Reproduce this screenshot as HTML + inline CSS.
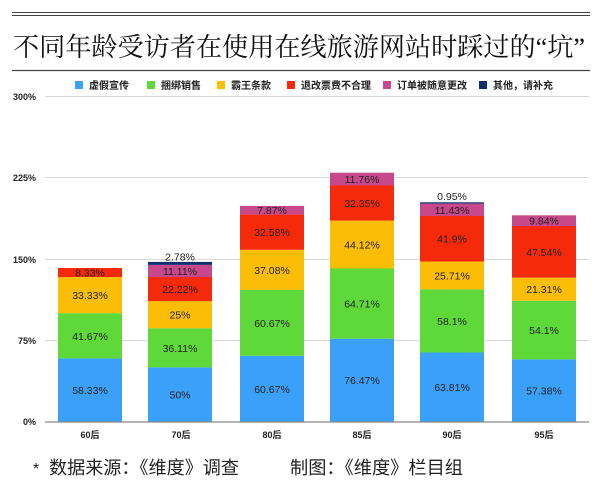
<!DOCTYPE html>
<html><head><meta charset="utf-8"><style>
html,body{margin:0;padding:0;background:#fff;width:600px;height:503px;overflow:hidden}
svg{display:block}
</style></head><body>
<svg width="600" height="503" viewBox="0 0 600 503" xmlns="http://www.w3.org/2000/svg">
<rect width="600" height="503" fill="#fff"/>
<line x1="12" y1="12.5" x2="590" y2="12.5" stroke="#444" stroke-width="1"/>
<line x1="12" y1="15.5" x2="590" y2="15.5" stroke="#444" stroke-width="1"/>
<text x="13" y="56" font-family="Liberation Serif, Noto Serif CJK SC, serif" font-size="26" fill="#111" textLength="572" lengthAdjust="spacingAndGlyphs">不同年龄受访者在使用在线旅游网站时踩过的“坑”</text>
<line x1="12" y1="70.5" x2="590" y2="70.5" stroke="#444" stroke-width="1.2"/>
<g font-family="Liberation Sans, Noto Sans CJK SC, sans-serif" font-size="10" fill="#222" font-weight="bold">
<rect x="75" y="81" width="8" height="8" fill="#3ba0f8"/><text x="89" y="89">虚假宣传</text>
<rect x="147" y="81" width="8" height="8" fill="#5fd83a"/><text x="161" y="89">捆绑销售</text>
<rect x="217" y="81" width="8" height="8" fill="#fbbd06"/><text x="231" y="89">霸王条款</text>
<rect x="287" y="81" width="8" height="8" fill="#f52a0a"/><text x="301" y="89">退改票费不合理</text>
<rect x="383" y="81" width="8" height="8" fill="#c7498b"/><text x="397" y="89">订单被随意更改</text>
<rect x="479" y="81" width="8" height="8" fill="#102f6e"/><text x="493" y="89">其他，请补充</text>
</g>
<g stroke="#d8d8d8" stroke-width="1">
<line x1="45" y1="96.5" x2="589" y2="96.5"/>
<line x1="45" y1="177.5" x2="589" y2="177.5"/>
<line x1="45" y1="259.5" x2="589" y2="259.5"/>
<line x1="45" y1="340.5" x2="589" y2="340.5"/>
</g>
<g font-family="Liberation Sans, sans-serif" font-size="9" font-weight="bold" fill="#222" text-anchor="end">
<text x="36" y="100">300%</text>
<text x="36" y="181">225%</text>
<text x="36" y="263">150%</text>
<text x="36" y="344">75%</text>
<text x="36" y="425">0%</text>
</g>
<g>
<rect x="58" y="358.4" width="64" height="63.3" fill="#3ba0f8"/>
<rect x="58" y="313.2" width="64" height="45.2" fill="#5fd83a"/>
<rect x="58" y="277.0" width="64" height="36.2" fill="#fbbd06"/>
<rect x="58" y="268.0" width="64" height="9.0" fill="#f52a0a"/>

<rect x="148" y="367.4" width="64" height="54.3" fill="#3ba0f8"/>
<rect x="148" y="328.2" width="64" height="39.2" fill="#5fd83a"/>
<rect x="148" y="301.1" width="64" height="27.1" fill="#fbbd06"/>
<rect x="148" y="277.0" width="64" height="24.1" fill="#f52a0a"/>
<rect x="148" y="264.9" width="64" height="12.1" fill="#c7498b"/>
<rect x="148" y="261.9" width="64" height="3.0" fill="#102f6e"/>

<rect x="240" y="355.9" width="64" height="65.8" fill="#3ba0f8"/>
<rect x="240" y="290.0" width="64" height="65.9" fill="#5fd83a"/>
<rect x="240" y="249.8" width="64" height="40.2" fill="#fbbd06"/>
<rect x="240" y="214.4" width="64" height="35.4" fill="#f52a0a"/>
<rect x="240" y="205.9" width="64" height="8.5" fill="#c7498b"/>

<rect x="330" y="338.7" width="64" height="83.0" fill="#3ba0f8"/>
<rect x="330" y="268.5" width="64" height="70.2" fill="#5fd83a"/>
<rect x="330" y="220.6" width="64" height="47.9" fill="#fbbd06"/>
<rect x="330" y="185.5" width="64" height="35.1" fill="#f52a0a"/>
<rect x="330" y="172.7" width="64" height="12.8" fill="#c7498b"/>

<rect x="420" y="352.5" width="64" height="69.2" fill="#3ba0f8"/>
<rect x="420" y="289.4" width="64" height="63.1" fill="#5fd83a"/>
<rect x="420" y="261.5" width="64" height="27.9" fill="#fbbd06"/>
<rect x="420" y="216.0" width="64" height="45.5" fill="#f52a0a"/>
<rect x="420" y="203.6" width="64" height="12.4" fill="#c7498b"/>
<rect x="420" y="202.3" width="64" height="1.3" fill="#102f6e"/>

<rect x="512" y="359.4" width="64" height="62.3" fill="#3ba0f8"/>
<rect x="512" y="300.7" width="64" height="58.7" fill="#5fd83a"/>
<rect x="512" y="277.6" width="64" height="23.1" fill="#fbbd06"/>
<rect x="512" y="226.0" width="64" height="51.6" fill="#f52a0a"/>
<rect x="512" y="215.3" width="64" height="10.7" fill="#c7498b"/>
</g>
<g font-family="Liberation Sans, sans-serif" font-size="10.5" fill="#222" text-anchor="middle">
<text x="90" y="394">58.33%</text><text x="90" y="339.8">41.67%</text><text x="90" y="299">33.33%</text><text x="90" y="276.5">8.33%</text>
<text x="180" y="398.6">50%</text><text x="180" y="351.8">36.11%</text><text x="180" y="318.7">25%</text><text x="180" y="293">22.22%</text><text x="180" y="274.9">11.11%</text><text x="180" y="260.5">2.78%</text>
<text x="272" y="392.8">60.67%</text><text x="272" y="326.9">60.67%</text><text x="272" y="273.9">37.08%</text><text x="272" y="236.1">32.58%</text><text x="272" y="214.1">7.87%</text>
<text x="362" y="384.2">76.47%</text><text x="362" y="307.6">64.71%</text><text x="362" y="248.5">44.12%</text><text x="362" y="207">32.35%</text><text x="362" y="183">11.76%</text>
<text x="452" y="391">63.81%</text><text x="452" y="324.9">58.1%</text><text x="452" y="279.4">25.71%</text><text x="452" y="242.7">41.9%</text><text x="452" y="213.8">11.43%</text><text x="452" y="200">0.95%</text>
<text x="544" y="394.6">57.38%</text><text x="544" y="334">54.1%</text><text x="544" y="293">21.31%</text><text x="544" y="255.8">47.54%</text><text x="544" y="224.5">9.84%</text>
</g>
<line x1="45" y1="422" x2="589" y2="422" stroke="#888" stroke-width="1.2"/>
<g font-family="Liberation Sans, Noto Sans CJK SC, sans-serif" font-size="9" font-weight="bold" fill="#222" text-anchor="middle">
<text x="90" y="438">60后</text><text x="181" y="438">70后</text><text x="272" y="438">80后</text>
<text x="362" y="438">85后</text><text x="452" y="438">90后</text><text x="544" y="438">95后</text>
</g>
<g font-family="Liberation Sans, Noto Sans CJK SC, sans-serif" font-size="18" fill="#222">
<text x="33" y="474" font-size="16">*</text>
<text x="49" y="474" textLength="190" lengthAdjust="spacingAndGlyphs">数据来源：《维度》调查</text>
<text x="290" y="474" textLength="173" lengthAdjust="spacingAndGlyphs">制图：《维度》栏目组</text>
</g>
</svg>
</body></html>
